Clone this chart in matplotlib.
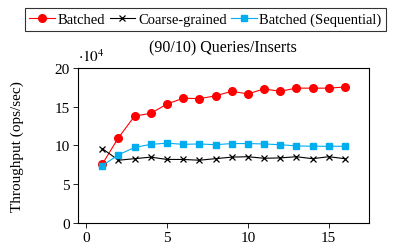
import matplotlib
matplotlib.use("Agg")
import matplotlib.pyplot as plt

plt.rcParams['font.family'] = ['Liberation Serif', 'DejaVu Serif']
plt.rcParams['mathtext.fontset'] = 'stix'
plt.rcParams['font.size'] = 11

# Throughput in units of 10^4 ops/sec
threads = [1, 2, 3, 4, 5, 6, 7, 8, 9, 10, 11, 12, 13, 14, 15, 16]
batched = [7.6, 11.0, 13.8, 14.15, 15.35, 16.1, 16.05, 16.4, 17.0, 16.65,
           17.3, 17.0, 17.4, 17.4, 17.4, 17.55]
coarse = [9.6, 8.1, 8.3, 8.5, 8.2, 8.2, 8.1, 8.3, 8.5, 8.55,
          8.35, 8.4, 8.55, 8.3, 8.55, 8.3]
batched_seq = [7.4, 8.8, 9.75, 10.15, 10.3, 10.15, 10.2, 10.1, 10.25, 10.25,
               10.2, 10.1, 9.95, 9.9, 9.9, 9.9]

fig = plt.figure(figsize=(3.94, 2.51), dpi=100)
ax = fig.add_axes([0.198, 0.1076, 0.739, 0.6175])

ax.plot(threads, batched, color='red', lw=0.8, marker='o', ms=5.5,
        label='Batched')
ax.plot(threads, coarse, color='black', lw=0.8, marker='x', ms=4.5,
        mew=0.9, label='Coarse-grained')
ax.plot(threads, batched_seq, color='#00aeef', lw=0.8, marker='s', ms=5,
        label='Batched (Sequential)')

ax.set_xlim(-0.5, 17.5)
ax.set_ylim(0, 20)
ax.set_xticks([0, 5, 10, 15])
ax.set_yticks([0, 5, 10, 15, 20])
ax.tick_params(direction='out', length=3.5, width=0.6, top=False, right=False,
               pad=2.5)
for s in ax.spines.values():
    s.set_linewidth(0.8)

ax.set_ylabel('Throughput (ops/sec)')
ax.yaxis.set_label_coords(-0.185, 0.5)
ax.text(0.0, 1.025, r'$\cdot 10^4$', transform=ax.transAxes, ha='left',
        va='bottom')
fig.text(0.567, 0.809, '(90/10) Queries/Inserts', ha='center', va='center',
         fontsize=11.5)

leg = fig.legend(loc='center', bbox_to_anchor=(0.5216, 0.918), ncol=3,
                 frameon=True, fancybox=False, edgecolor='black',
                 fontsize=10.5, handlelength=1.75, handletextpad=0.2,
                 columnspacing=0.3, borderpad=0.3, borderaxespad=0)
leg.get_frame().set_linewidth(0.8)

fig.savefig('out.png', dpi=100)
